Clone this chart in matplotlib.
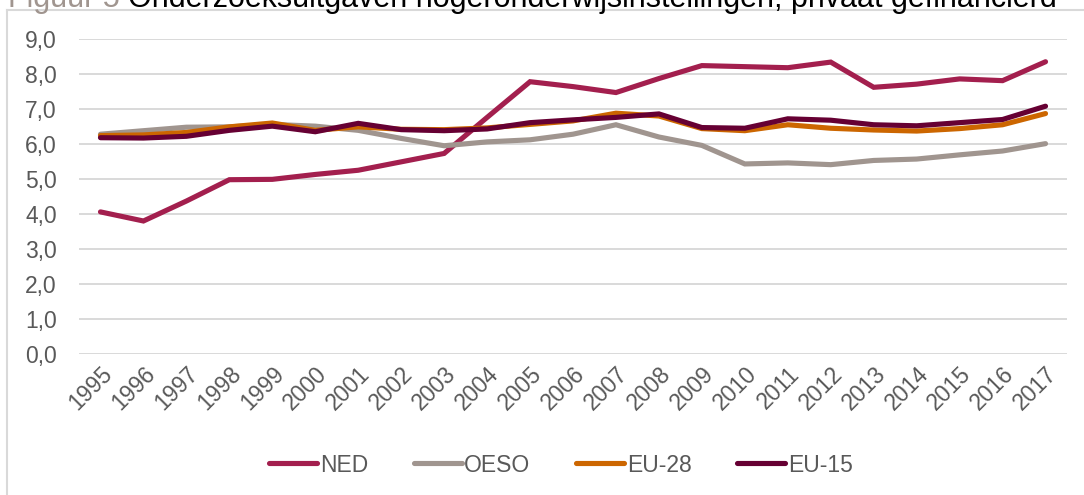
import numpy as np
import matplotlib
matplotlib.use("Agg")
import matplotlib.pyplot as plt
from matplotlib.lines import Line2D

plt.rcParams['font.family'] = ['Liberation Sans', 'DejaVu Sans']

# data
years = list(range(1995, 2018))
ned = [4.06, 3.80, 4.37, 4.98, 4.99, 5.13, 5.25, 5.49, 5.73, 6.76, 7.78,
       7.64, 7.47, 7.87, 8.24, 8.21, 8.18, 8.34, 7.62, 7.71, 7.86, 7.81, 8.35]
oeso = [6.28, 6.38, 6.48, 6.49, 6.56, 6.51, 6.39, 6.16, 5.95, 6.06, 6.12,
        6.28, 6.55, 6.20, 5.96, 5.43, 5.46, 5.41, 5.53, 5.57, 5.69, 5.80, 6.01]
eu28 = [6.24, 6.26, 6.33, 6.49, 6.60, 6.39, 6.49, 6.42, 6.41, 6.46, 6.56,
        6.66, 6.88, 6.80, 6.44, 6.38, 6.55, 6.45, 6.40, 6.37, 6.44, 6.55, 6.87]
eu15 = [6.18, 6.17, 6.22, 6.39, 6.51, 6.35, 6.59, 6.41, 6.38, 6.43, 6.61,
        6.69, 6.76, 6.86, 6.47, 6.45, 6.72, 6.68, 6.55, 6.52, 6.61, 6.70, 7.08]
series = [("NED", ned, "#A31F4E"), ("OESO", oeso, "#A0958F"),
          ("EU-28", eu28, "#CC6600"), ("EU-15", eu15, "#660033")]

W, H = 1084, 495
fig = plt.figure(figsize=(W / 100, H / 100), dpi=100)
ax = fig.add_axes([79 / W, (H - 354) / H, (1067 - 79) / W, (354 - 39) / H])

for name, vals, col in series:
    ax.plot(years, vals, color=col, lw=3.7, label=name,
            solid_capstyle='round', solid_joinstyle='miter')

ax.set_xlim(1994.5, 2017.5)
ax.set_ylim(0, 9)
ax.set_yticks(np.arange(0, 9.1, 1))
ax.set_yticklabels([f"{v:.1f}".replace(".", ",") for v in np.arange(0, 9.1, 1)])
ax.set_xticks(years)
ax.set_xticklabels([str(y) for y in years], rotation=45, ha='right',
                   rotation_mode='anchor')
ax.tick_params(axis='both', length=0, labelsize=16.5, colors='#595959')
ax.tick_params(axis='y', pad=16)
ax.tick_params(axis='x', pad=6)
ax.grid(axis='y', color='#D9D9D9', lw=1.4)
ax.set_axisbelow(True)
for s in ax.spines.values():
    s.set_visible(False)

leg = fig.legend(loc='center', bbox_to_anchor=(561 / W, 1 - 465 / H), ncol=4,
                 frameon=False, fontsize=16.5, handlelength=2.1,
                 handletextpad=0.1, columnspacing=2.0)
for t in leg.get_texts():
    t.set_color('#595959')

# outer chart frame (only the top and left edges are visible)
fig.add_artist(Line2D([7 / W, 7 / W], [0, 1 - 10 / H], color='#D9D9D9', lw=1.5))
fig.add_artist(Line2D([7 / W, 1], [1 - 10 / H, 1 - 10 / H], color='#D9D9D9', lw=1.5))

# title, cut off by the top edge
fig.text(8 / W, 1 - 6.5 / H, "Figuur 5", color='#A0958F', fontsize=22, va='baseline')
fig.text(128 / W, 1 - 6.5 / H,
         "Onderzoeksuitgaven hogeronderwijsinstellingen, privaat gefinancierd",
         color='black', fontsize=22, va='baseline')

fig.savefig("out.png", dpi=100)
